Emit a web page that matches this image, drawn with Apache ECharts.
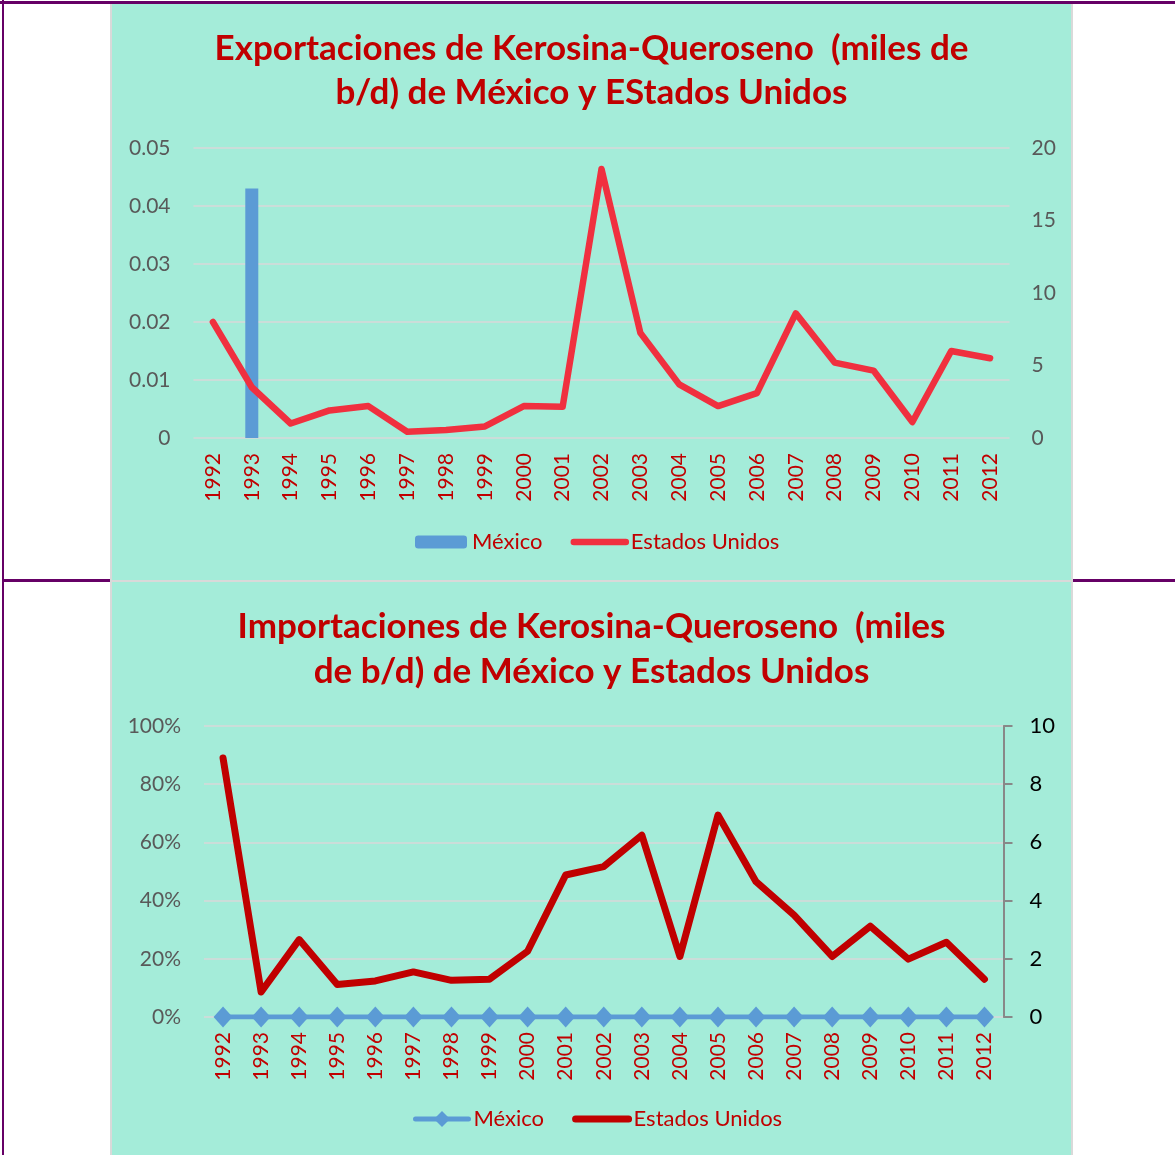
<!DOCTYPE html>
<html>
<head>
<meta charset="utf-8">
<script src="https://cdn.jsdelivr.net/npm/echarts@6/dist/echarts.min.js"></script>
<style>
html,body{margin:0;padding:0;background:#fff;width:1175px;height:1155px;overflow:hidden;position:relative;}
.pl{position:absolute;background:#660066;}
.panel{position:absolute;box-sizing:border-box;background:#a4ecd9;border-left:2px solid #d9d9d9;border-right:2px solid #d9d9d9;}
.chart{width:100%;height:100%;}
</style>
</head>
<body>
<div class="pl" style="left:0;top:1px;width:1175px;height:3px;"></div>
<div class="pl" style="left:2px;top:0;width:2px;height:1155px;"></div>
<div class="pl" style="left:4px;top:579px;width:106px;height:3px;"></div>
<div class="pl" style="left:1073px;top:579px;width:102px;height:3px;"></div>
<div class="panel" style="left:110px;top:4px;width:963px;height:576px;"><div id="c1" class="chart"></div></div>
<div class="panel" style="left:110px;top:580px;width:963px;height:578px;border-top:2px solid #d9d9d9;"><div id="c2" class="chart"></div></div>
<script>
const years = ['1992','1993','1994','1995','1996','1997','1998','1999','2000','2001','2002','2003','2004','2005','2006','2007','2008','2009','2010','2011','2012'];
// Exportaciones
const expMexico = [null,0.043,null,null,null,null,null,null,null,null,null,null,null,null,null,null,null,null,null,null,null];
const expUSA = [8.0,3.5,1.0,1.9,2.2,0.43,0.55,0.8,2.2,2.15,18.55,7.25,3.7,2.2,3.1,8.6,5.2,4.65,1.1,6.0,5.5];
// Importaciones
const impMexico = [0,0,0,0,0,0,0,0,0,0,0,0,0,0,0,0,0,0,0,0,0];
const impUSA = [8.9,0.86,2.66,1.12,1.24,1.55,1.26,1.3,2.26,4.88,5.17,6.25,2.08,6.94,4.65,3.5,2.08,3.12,1.99,2.57,1.3];

const FONT = 'Lato';
const RED = '#c00000';
const GRAY = '#595959';

function xAxisCfg(){
  return {type:'category',data:years,boundaryGap:true,
    axisLine:{show:false},axisTick:{show:false},
    axisLabel:{rotate:90,color:RED,fontFamily:FONT,fontSize:21,margin:15,interval:0}};
}

const c1 = echarts.init(document.getElementById('c1'));
c1.setOption({
  animation:false,
  backgroundColor:'transparent',
  title:{text:'Exportaciones de Kerosina-Queroseno  (miles de\nb/d) de México y EStados Unidos',
    left:'center',top:23,padding:0,
    textStyle:{color:RED,fontFamily:FONT,fontWeight:'bold',fontSize:35,lineHeight:44}},
  legend:{left:303,top:527,padding:0,itemGap:28,itemWidth:52,itemHeight:13,
    textStyle:{color:RED,fontFamily:FONT,fontSize:22},
    data:['México',{name:'Estados Unidos',itemStyle:{opacity:0},lineStyle:{width:6.5,cap:'round'}}]},
  grid:{left:81.5,right:61.5,top:144,bottom:142},
  xAxis:xAxisCfg(),
  yAxis:[
    {type:'value',min:0,max:0.05,interval:0.01,
     axisLine:{show:false},axisTick:{show:false},
     splitLine:{lineStyle:{color:'#d9d9d9',width:1.5}},
     axisLabel:{color:GRAY,fontFamily:FONT,fontSize:21,margin:23}},
    {type:'value',min:0,max:20,interval:5,position:'right',
     axisLine:{show:false},axisTick:{show:false},splitLine:{show:false},
     axisLabel:{color:GRAY,fontFamily:FONT,fontSize:21,margin:22}}
  ],
  series:[
    {name:'México',type:'bar',data:expMexico,barWidth:13,yAxisIndex:0,
     itemStyle:{color:'#5b9bd5'}},
    {name:'Estados Unidos',type:'line',data:expUSA,yAxisIndex:1,symbol:'none',
     lineStyle:{color:'#f0303f',width:6.5,cap:'round',join:'round'},itemStyle:{color:'#f0303f'}}
  ]
});

const c2 = echarts.init(document.getElementById('c2'));
c2.setOption({
  animation:false,
  backgroundColor:'transparent',
  title:{text:'Importaciones de Kerosina-Queroseno  (miles\nde b/d) de México y Estados Unidos',
    left:'center',top:22,padding:0,
    textStyle:{color:RED,fontFamily:FONT,fontWeight:'bold',fontSize:35,lineHeight:45}},
  legend:{left:301,top:526,padding:0,itemGap:28,itemWidth:53,itemHeight:20,
    textStyle:{color:RED,fontFamily:FONT,fontSize:22},
    data:[{name:'México',lineStyle:{width:5,cap:'round'}},
          {name:'Estados Unidos',itemStyle:{opacity:0},lineStyle:{width:7,cap:'round'}}]},
  grid:{left:92,right:67.5,top:144,bottom:141},
  xAxis:xAxisCfg(),
  yAxis:[
    {type:'value',min:0,max:1,interval:0.2,
     axisLine:{show:false},axisTick:{show:false},
     splitLine:{lineStyle:{color:'#d9d9d9',width:1.5}},
     axisLabel:{color:GRAY,fontFamily:FONT,fontSize:21,margin:23,
       formatter:v=>Math.round(v*100)+'%'}},
    {type:'value',min:0,max:10,interval:2,position:'right',
     axisLine:{show:true,lineStyle:{color:'#888888',width:2}},
     axisTick:{show:true,length:9,lineStyle:{color:'#888888',width:2}},
     splitLine:{show:false},
     axisLabel:{color:'#000',fontFamily:FONT,fontSize:22,margin:26}}
  ],
  series:[
    {name:'México',type:'line',data:impMexico,yAxisIndex:0,symbol:'diamond',symbolSize:[19,21],
     lineStyle:{color:'#5b9bd5',width:5},itemStyle:{color:'#5b9bd5'},z:3},
    {name:'Estados Unidos',type:'line',data:impUSA,yAxisIndex:1,symbol:'none',
     lineStyle:{color:RED,width:7,cap:'round',join:'round'},itemStyle:{color:RED},z:2}
  ]
});
</script>
</body>
</html>
